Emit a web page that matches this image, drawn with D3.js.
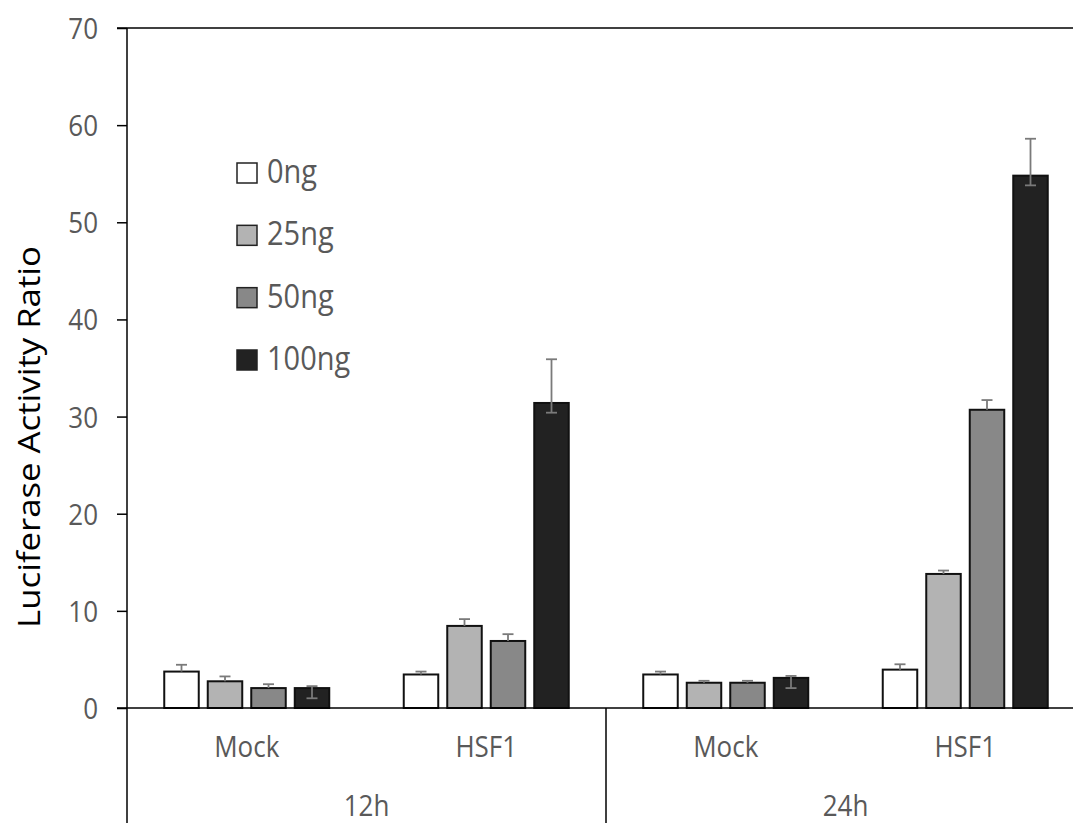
<!DOCTYPE html>
<html>
<head>
<meta charset="utf-8">
<script src="https://cdn.jsdelivr.net/npm/d3@7"></script>
<style>
  html, body { margin: 0; padding: 0; background: #fff; }
  svg { display: block; }
</style>
</head>
<body>
<svg id="chart" width="1073" height="823"></svg>
<script>
// ---- data ----
const times = ["12h", "24h"];
const treatments = ["Mock", "HSF1"];
const series = ["0ng", "25ng", "50ng", "100ng"];
const seriesColors = ["#ffffff", "#b3b3b3", "#888888", "#222222"];

// values per group: 12h Mock, 12h HSF1, 24h Mock, 24h HSF1
const v0ng   = [3.75, 3.45, 3.45, 3.95];
const v25ng  = [2.75, 8.45, 2.6, 13.8];
const v50ng  = [2.05, 6.9, 2.6, 30.7];
const v100ng = [2.05, 31.4, 3.1, 54.8];

// upper error bars
const e0ng   = [0.7, 0.3, 0.3, 0.55];
const e25ng  = [0.5, 0.7, 0.2, 0.35];
const e50ng  = [0.4, 0.7, 0.2, 1.0];
const e100ng = [0.2, 4.5, 0.2, 3.8];
// lower whiskers, visible on the dark bars
const e100ngLow = [1.05, 1.0, 1.05, 1.0];

const yTicks = [0, 10, 20, 30, 40, 50, 60, 70];
const yTitle = "Luciferase Activity Ratio";

(function draw() {
  const svg = d3.select("#chart");
  const mLeft = 127, mRight = 1085, mTop = 28, base = 708, mBottom = 823;
  const stretch = 1.12;
  const textGray = "#595959";
  const font = "'Open Sans', 'Noto Sans', sans-serif";

  const groups = [];
  times.forEach(t => treatments.forEach(c => groups.push(t + "|" + c)));

  const values = [v0ng, v25ng, v50ng, v100ng];
  const errs = [e0ng, e25ng, e50ng, e100ng];

  const y = d3.scaleLinear().domain([0, 70]).range([base, mTop]);
  const x0 = d3.scaleBand().domain(groups).range([mLeft, mRight]).padding(0);
  const x1 = d3.scaleBand().domain(series).range([-82.5, 82.5])
    .paddingInner(0.207).paddingOuter(0);

  // top border
  svg.append("line")
    .attr("x1", mLeft - 10).attr("x2", mRight)
    .attr("y1", mTop).attr("y2", mTop)
    .attr("stroke", "#000").attr("stroke-width", 1.5);

  // y axis
  const yAxis = svg.append("g")
    .attr("transform", `translate(${mLeft},0)`)
    .call(d3.axisLeft(y).tickValues(yTicks).tickSize(10).tickPadding(19));
  yAxis.select(".domain").remove();
  yAxis.selectAll(".tick line").attr("stroke", "#000").attr("stroke-width", 1.5);
  yAxis.selectAll(".tick text")
    .attr("fill", textGray)
    .style("font-family", font).style("font-size", "26px")
    .attr("transform", `scale(1,${stretch})`)
    .attr("dy", "0.36em");

  // vertical axis line continuing below the baseline
  svg.append("line")
    .attr("x1", mLeft).attr("x2", mLeft)
    .attr("y1", mTop).attr("y2", mBottom)
    .attr("stroke", "#000").attr("stroke-width", 1.5);

  // y title
  svg.append("text")
    .attr("transform", `translate(40,437) rotate(-90) scale(${stretch},1)`)
    .attr("text-anchor", "middle")
    .attr("fill", "#000")
    .style("font-family", font).style("font-size", "31px")
    .text(yTitle);

  // bars
  const barData = [];
  series.forEach((s, si) => {
    groups.forEach((g, gi) => {
      barData.push({ s, si, g, gi, v: values[si][gi], e: errs[si][gi],
        lo: si === 3 ? e100ngLow[gi] : 0 });
    });
  });

  const barG = svg.append("g");
  barG.selectAll("rect").data(barData).enter().append("rect")
    .attr("x", d => x0(d.g) + x0.bandwidth() / 2 + x1(d.s))
    .attr("y", d => y(d.v))
    .attr("width", x1.bandwidth())
    .attr("height", d => y(0) - y(d.v))
    .attr("fill", d => seriesColors[d.si])
    .attr("stroke", "#111").attr("stroke-width", 2);

  // error bars
  const errG = svg.append("g").attr("stroke", "#7a7a7a").attr("stroke-width", 1.8);
  const cx = d => x0(d.g) + x0.bandwidth() / 2 + x1(d.s) + x1.bandwidth() / 2;
  errG.selectAll("line.stem").data(barData).enter().append("line")
    .attr("class", "stem")
    .attr("x1", cx).attr("x2", cx)
    .attr("y1", d => y(d.v - d.lo)).attr("y2", d => y(d.v + d.e));
  errG.selectAll("line.capTop").data(barData).enter().append("line")
    .attr("class", "capTop")
    .attr("x1", d => cx(d) - 5.5).attr("x2", d => cx(d) + 5.5)
    .attr("y1", d => y(d.v + d.e)).attr("y2", d => y(d.v + d.e));
  errG.selectAll("line.capLow").data(barData.filter(d => d.lo > 0)).enter().append("line")
    .attr("class", "capLow")
    .attr("x1", d => cx(d) - 5.5).attr("x2", d => cx(d) + 5.5)
    .attr("y1", d => y(d.v - d.lo)).attr("y2", d => y(d.v - d.lo));

  // baseline
  svg.append("line")
    .attr("x1", mLeft - 10).attr("x2", mRight)
    .attr("y1", base).attr("y2", base)
    .attr("stroke", "#000").attr("stroke-width", 1.5);

  // divider between time points
  svg.append("line")
    .attr("x1", x0(groups[2])).attr("x2", x0(groups[2]))
    .attr("y1", base).attr("y2", mBottom)
    .attr("stroke", "#000").attr("stroke-width", 1.5);

  // category labels
  groups.forEach(g => {
    svg.append("text")
      .attr("transform", `translate(${x0(g) + x0.bandwidth() / 2},757) scale(1,${stretch})`)
      .attr("text-anchor", "middle").attr("fill", textGray)
      .style("font-family", font).style("font-size", "26px")
      .text(g.split("|")[1]);
  });
  times.forEach((t, i) => {
    const gx = x0(groups[i * 2]) + x0.bandwidth();
    svg.append("text")
      .attr("transform", `translate(${gx},816) scale(1,${stretch})`)
      .attr("text-anchor", "middle").attr("fill", textGray)
      .style("font-family", font).style("font-size", "26px")
      .text(t);
  });

  // legend
  const legend = svg.append("g");
  const legendY = d3.scalePoint().domain(series).range([173, 360]);
  series.forEach((s, i) => {
    const cy = legendY(s);
    legend.append("rect")
      .attr("x", 237).attr("y", cy - 10)
      .attr("width", 20).attr("height", 20)
      .attr("fill", seriesColors[i]).attr("stroke", "#222").attr("stroke-width", 1.5);
    legend.append("text")
      .attr("transform", `translate(267,${cy + 10}) scale(1,${stretch})`)
      .attr("fill", textGray)
      .style("font-family", font).style("font-size", "29px")
      .text(s);
  });
})();
</script>
</body>
</html>
